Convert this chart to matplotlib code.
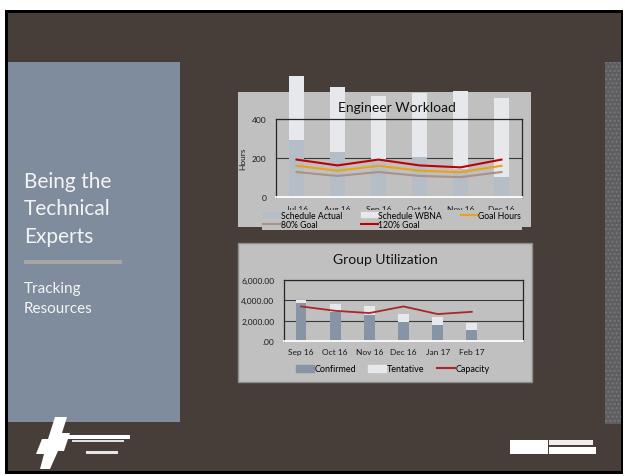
import matplotlib
matplotlib.use('Agg')
import matplotlib.pyplot as plt
from matplotlib.patches import Rectangle, Polygon, Patch
from matplotlib.lines import Line2D
from matplotlib.ticker import FuncFormatter

W, H = 625, 477

# Engineer Workload
meses_carga = ['Jul 16', 'Aug 16', 'Sep 16', 'Oct 16', 'Nov 16', 'Dec 16']
schedule_actual = [290, 232, 195, 203, 144, 101]
schedule_wbna = [330, 331, 321, 329, 401, 405]
goal_hours = [160, 135, 160, 135, 127, 160]
goal_80 = [128, 108, 128, 108, 102, 128]
goal_120 = [192, 162, 192, 162, 152, 192]

# Group Utilization
meses_grupo = ['Sep 16', 'Oct 16', 'Nov 16', 'Dec 16', 'Jan 17', 'Feb 17', '']
confirmed = [3700, 2900, 2550, 1830, 1570, 1110]
tentative = [320, 730, 910, 820, 750, 655]
capacity = [3400, 2970, 2750, 3400, 2650, 2870]

plt.rcParams['font.family'] = ['Lato', 'DejaVu Sans']

C_FONDO = '#483e39'
C_PANEL = '#7f8c9d'
C_CHART = '#c0c0c0'
C_ACTUAL = '#b5bdc7'
C_WBNA = '#e7e8eb'
C_CONF = '#8794a6'


def px(x):
    return x / W


def py(y):
    return 1 - y / H


def caja(x0, y0, x1, y1):
    return [px(x0), py(y1), (x1 - x0) / W, (y1 - y0) / H]


def rect(fig, x0, y0, x1, y1, z=-5, **kw):
    r = Rectangle((px(x0), py(y1)), (x1 - x0) / W, (y1 - y0) / H,
                  transform=fig.transFigure, zorder=z, **kw)
    fig.add_artist(r)
    return r


def estilo_ejes(ax):
    ax.set_facecolor('none')
    for lado in ['top', 'left', 'right']:
        ax.spines[lado].set_color('#262626')
        ax.spines[lado].set_linewidth(0.9)
    ax.spines['bottom'].set_color('white')
    ax.spines['bottom'].set_linewidth(1.3)
    ax.grid(axis='y', color='#3a3a3a', linewidth=0.8)
    ax.set_axisbelow(True)
    ax.tick_params(length=0, labelsize=6, colors='#1a1a1a')


fig = plt.figure(figsize=(W / 100, H / 100), dpi=100)
fig.patch.set_facecolor('white')

# slide background
rect(fig, 5, 11, 623, 475, z=-10, facecolor='black', lw=0)
rect(fig, 8, 14, 621, 472, z=-9, facecolor=C_FONDO, lw=0)
rect(fig, 8, 63, 180, 423, z=-8, facecolor=C_PANEL, lw=0)
rect(fig, 605, 63, 621, 425, z=-8, facecolor='#5e5d61', edgecolor='#77767a',
     hatch='....', lw=0)
rect(fig, 24, 261, 122, 265, z=-7, facecolor='#a6a6a6', lw=0)

for i, linea in enumerate(['Being the', 'Technical', 'Experts']):
    fig.text(px(24), py(182 + i * 27.5), linea, fontsize=15, color='#f4f4f4',
             va='center', ha='left')
for i, linea in enumerate(['Tracking', 'Resources']):
    fig.text(px(24), py(289 + i * 20), linea, fontsize=11, color='#f4f4f4',
             va='center', ha='left')

# logos (approximate white shapes)
logo = Polygon([(px(55), py(418)), (px(67), py(418)), (px(62), py(434)),
                (px(70), py(434)), (px(64), py(452)), (px(58), py(452)),
                (px(50), py(470)), (px(40), py(470)), (px(44), py(455)),
                (px(36), py(455)), (px(42), py(440)), (px(48), py(440))],
               closed=True, transform=fig.transFigure, facecolor='white',
               lw=0, zorder=-6)
fig.add_artist(logo)
rect(fig, 66, 436, 130, 440, z=-6, facecolor='white', lw=0)
rect(fig, 72, 441, 124, 443, z=-6, facecolor='#e0e0e0', lw=0)
rect(fig, 86, 452, 118, 455, z=-6, facecolor='#e6e6e6', lw=0)
rect(fig, 510, 441, 548, 455, z=-6, facecolor='white', lw=0)
rect(fig, 549, 441, 593, 446, z=-6, facecolor='#eeeeee', lw=0)
rect(fig, 549, 448, 596, 455, z=-6, facecolor='white', lw=0)

# chart boxes
rect(fig, 238, 93, 531, 228, z=-6, facecolor=C_CHART, lw=0)
rect(fig, 238, 244, 532, 383, z=-6, facecolor=C_CHART, edgecolor='#8c8c8c', lw=1)

# ---- Engineer Workload
ax1 = fig.add_axes(caja(276, 120, 522, 198))
estilo_ejes(ax1)
x1 = range(len(meses_carga))
ax1.bar(x1, schedule_actual, width=0.39, color=C_ACTUAL, clip_on=False, zorder=2)
ax1.bar(x1, schedule_wbna, width=0.39, bottom=schedule_actual, color=C_WBNA,
        clip_on=False, zorder=2)
ax1.plot(x1, goal_80, color='#a8928a', lw=1.5, zorder=3)
ax1.plot(x1, goal_hours, color='#e8a317', lw=1.5, zorder=3)
ax1.plot(x1, goal_120, color='#c00000', lw=1.5, zorder=3)
ax1.set_xlim(-0.5, 5.5)
ax1.set_ylim(0, 400)
ax1.set_yticks([0, 200, 400])
ax1.set_xticks(list(x1))
ax1.set_xticklabels(meses_carga)
ax1.tick_params(axis='y', pad=7)
ax1.tick_params(axis='x', pad=6)
ax1.set_ylabel('Hours', fontsize=6, color='#1a1a1a', labelpad=4)

fig.text(px(397), py(108), 'Engineer Workload', fontsize=10, color='#111111',
         ha='center', va='center', zorder=6)

handles1 = [Patch(color=C_ACTUAL), Line2D([], [], color='#a8928a', lw=1.5),
            Patch(color=C_WBNA), Line2D([], [], color='#c00000', lw=1.5),
            Line2D([], [], color='#e8a317', lw=1.5)]
labels1 = ['Schedule Actual', '80% Goal', 'Schedule WBNA', '120% Goal', 'Goal Hours']
leg1 = fig.legend(handles1, labels1, ncol=3, loc='upper left',
                  bbox_to_anchor=(px(262), py(210.5)), fontsize=6.2,
                  frameon=True, fancybox=False, facecolor=C_CHART,
                  edgecolor='none', framealpha=1, borderpad=0.15,
                  handlelength=2.0, handleheight=0.6, handletextpad=0.0,
                  columnspacing=2.2, labelspacing=0.0, borderaxespad=0)
leg1.set_zorder(7)

# ---- Group Utilization
ax2 = fig.add_axes(caja(284, 281, 523, 342))
estilo_ejes(ax2)
x2 = range(len(confirmed))
ax2.bar(x2, confirmed, width=0.31, color=C_CONF, zorder=2)
ax2.bar(x2, tentative, width=0.31, bottom=confirmed, color=C_WBNA, zorder=2)
ax2.plot(x2, capacity, color='#a82828', lw=1.3, zorder=3)
ax2.set_xlim(-0.5, 6.5)
ax2.set_ylim(0, 6000)
ax2.set_yticks([0, 2000, 4000, 6000])
ax2.yaxis.set_major_formatter(FuncFormatter(lambda v, p: f'{v:,.2f}' if v else '.00'))
ax2.set_xticks(range(len(meses_grupo)))
ax2.set_xticklabels(meses_grupo)
ax2.tick_params(axis='y', pad=7)
ax2.tick_params(axis='x', pad=5)

fig.text(px(385), py(260), 'Group Utilization', fontsize=10, color='#111111',
         ha='center', va='center', zorder=6)

handles2 = [Patch(color=C_CONF), Patch(color=C_WBNA),
            Line2D([], [], color='#a82828', lw=1.5)]
labels2 = ['Confirmed', 'Tentative', 'Capacity']
fig.legend(handles2, labels2, ncol=3, loc='center left',
           bbox_to_anchor=(px(296), py(370)), fontsize=6.5, frameon=False,
           borderpad=0, handlelength=2.0, handleheight=0.8, handletextpad=0.1,
           columnspacing=1.3, borderaxespad=0)

fig.savefig('out.png', dpi=100, facecolor='white')
